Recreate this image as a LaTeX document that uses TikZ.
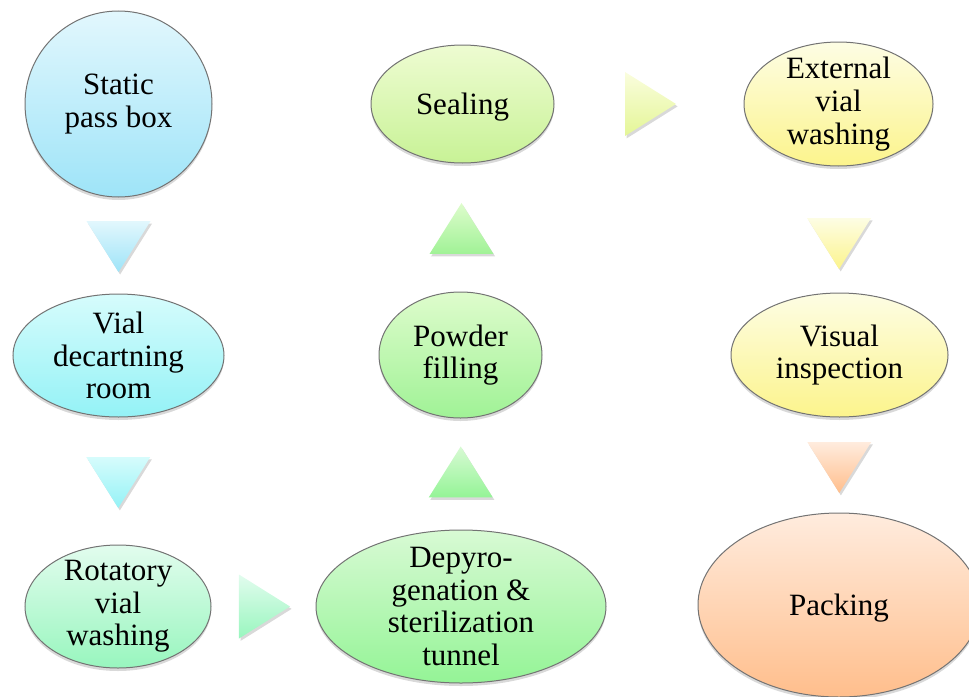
\documentclass[tikz,border=0pt]{standalone}
\usepackage{fontspec}
\setmainfont{Liberation Serif}
\usetikzlibrary{shapes.geometric,shadows,calc}

\definecolor{passTop}{RGB}{226,247,253}
\definecolor{passBot}{RGB}{158,228,248}
\definecolor{decTop}{RGB}{214,252,252}
\definecolor{decBot}{RGB}{148,242,246}
\definecolor{rotTop}{RGB}{226,252,238}
\definecolor{rotBot}{RGB}{152,246,190}
\definecolor{depTop}{RGB}{216,250,212}
\definecolor{depBot}{RGB}{148,244,150}
\definecolor{powTop}{RGB}{222,252,204}
\definecolor{powBot}{RGB}{160,242,150}
\definecolor{sealTop}{RGB}{238,252,210}
\definecolor{sealBot}{RGB}{200,242,150}
\definecolor{limeTop}{RGB}{250,253,222}
\definecolor{limeBot}{RGB}{228,246,150}
\definecolor{extTop}{RGB}{253,253,228}
\definecolor{extBot}{RGB}{252,244,140}
\definecolor{packTop}{RGB}{255,236,222}
\definecolor{packBot}{RGB}{255,190,140}

\tikzset{
  stage/.style args={#1,#2}{ ellipse, draw=black!55, line width=0.5pt,
    top color=#1, bottom color=#2, inner sep=-20pt, align=center,
    font=\fontsize{15.5}{16.3}\selectfont,
    execute at begin node={\rule{0pt}{14pt}},
    drop shadow={shadow xshift=0pt, shadow yshift=-1.5pt, opacity=0.3} }
}
\tikzset{
  flow/.style args={#1,#2}{ top color=#1, bottom color=#2,
    drop shadow={shadow xshift=0.8pt, shadow yshift=-1.2pt, opacity=0.3} }
}
% triangle markers placed on the line between two stages
\newcommand{\flowdown}[4]{\path[flow={#4}] ($(#1)!#3!(#2)$) ++(-32,-25.5) -- ++(64,0) -- ++(-32,51) -- cycle;}
\newcommand{\flowup}[4]{\path[flow={#4}] ($(#1)!#3!(#2)$) ++(-32,25.5) -- ++(64,0) -- ++(-32,-51) -- cycle;}
\newcommand{\flowright}[4]{\path[flow={#4}] ($(#1)!#3!(#2)$) ++(-25.5,-32) -- ++(51,32) -- ++(-51,32) -- cycle;}

\begin{document}
\begin{tikzpicture}[x=0.5pt, y=-0.5pt]
      \useasboundingbox (0,0) rectangle (969,696);
      \clip (0,0) rectangle (969,696);

      \node[stage={passTop,passBot}, minimum width=93.5pt, minimum height=93pt] (pass) at (118.5,104) {Static\\pass box};
      \node[stage={decTop,decBot}, minimum width=105.5pt, minimum height=61.5pt] (decart) at (118.5,355.5) {Vial\\decartning\\room};
      \node[stage={rotTop,rotBot}, minimum width=93pt, minimum height=61.5pt] (rot) at (118,606.5) {Rotatory\\vial\\washing};
      \node[stage={depTop,depBot}, minimum width=145pt, minimum height=76.5pt] (depyro) at (461,606.5) {Depyro-\\genation \&\\sterilization\\tunnel};
      \node[stage={powTop,powBot}, minimum width=81.5pt, minimum height=63pt] (powder) at (460.5,355) {Powder\\filling};
      \node[stage={sealTop,sealBot}, minimum width=91.5pt, minimum height=59pt] (seal) at (462.5,104) {Sealing};
      \node[stage={extTop,extBot}, minimum width=94.5pt, minimum height=62pt] (ext) at (838.5,104) {External\\vial\\washing};
      \node[stage={extTop,extBot}, minimum width=108.5pt, minimum height=62pt] (visual) at (839.5,355) {Visual\\inspection};
      \node[stage={packTop,packBot}, minimum width=141pt, minimum height=92pt] (pack) at (839,605) {Packing};

      \flowdown{pass}{decart}{0.567}{passTop,passBot}
      \flowdown{decart}{rot}{0.506}{decTop,decBot}
      \flowright{rot}{depyro}{0.427}{rotTop,rotBot}
      \flowup{depyro}{powder}{0.535}{depTop,depBot}
      \flowup{powder}{seal}{0.504}{powTop,powBot}
      \flowright{seal}{ext}{0.5}{limeTop,limeBot}
      \flowdown{ext}{visual}{0.556}{extTop,extBot}
      \flowdown{visual}{pack}{0.45}{packTop,packBot}
    \end{tikzpicture}
\end{document}
